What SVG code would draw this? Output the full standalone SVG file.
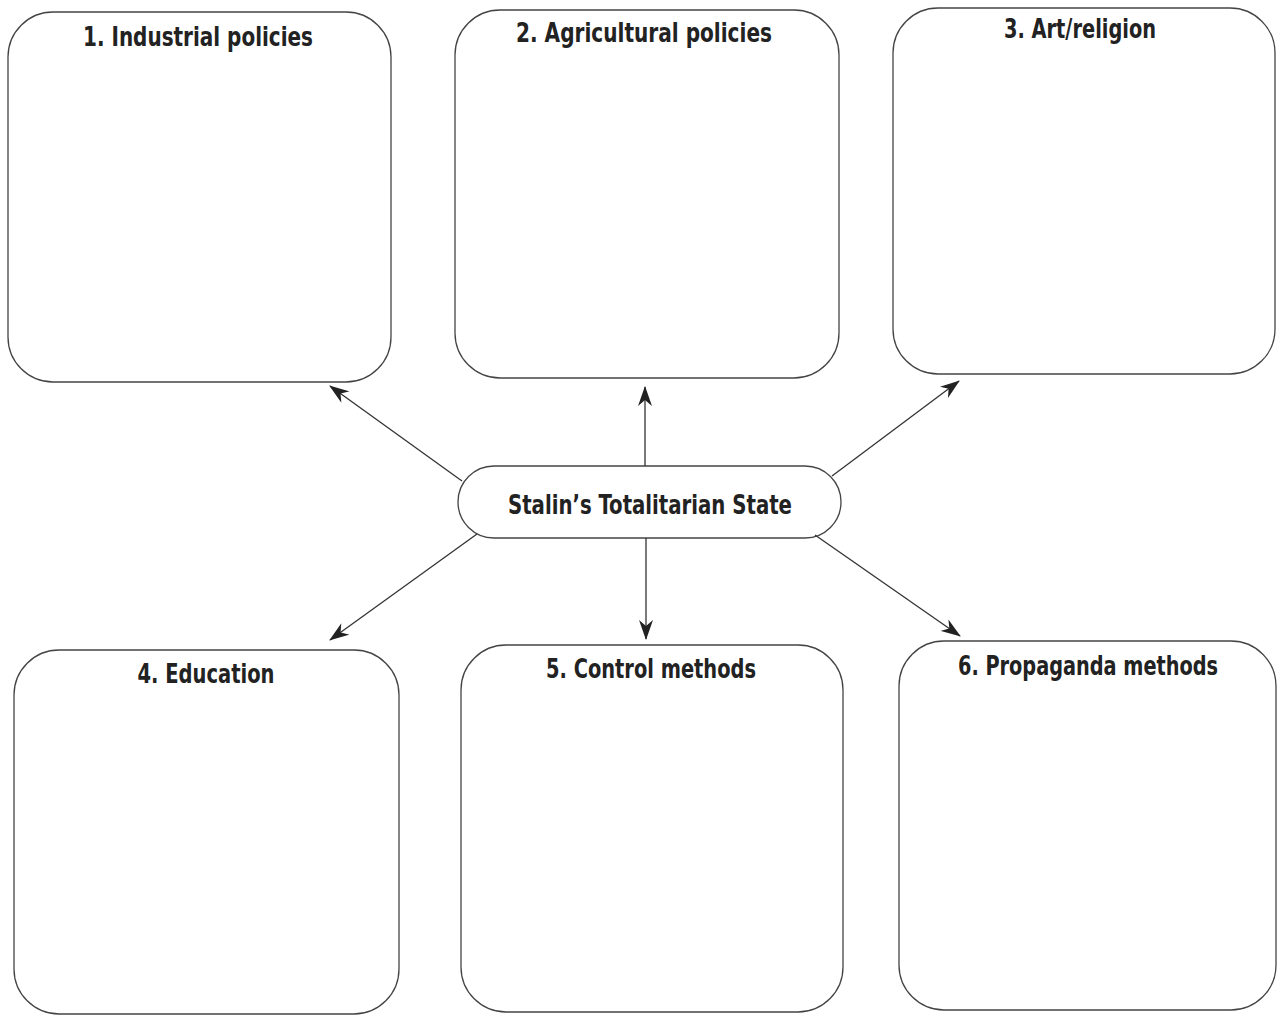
<svg xmlns="http://www.w3.org/2000/svg" width="1277" height="1016" viewBox="0 0 1277 1016">
<style>
.box{fill:#fff;stroke:#444;stroke-width:1.3}
.t{font-family:"Liberation Sans Narrow","DejaVu Sans Condensed","Roboto Condensed","Liberation Sans",sans-serif;font-stretch:condensed;font-weight:bold;font-size:26px;fill:#222;text-anchor:middle}
.c{stroke:#333;stroke-width:1.3;fill:none;marker-end:url(#ah)}
</style>
<defs>
<marker id="ah" viewBox="0 0 20 14" refX="19" refY="7" markerWidth="20" markerHeight="14" markerUnits="userSpaceOnUse" orient="auto">
<path d="M0,0 L20,7 L0,14 L6,7 z" fill="#222"/>
</marker>
</defs>
<rect width="1277" height="1016" fill="#fff"/>
<g id="n1"><rect class="box" x="8" y="12" width="383" height="370" rx="45"/><text class="t" x="198" y="46" textLength="230" lengthAdjust="spacingAndGlyphs">1. Industrial policies</text></g>
<g id="n2"><rect class="box" x="455" y="10" width="384" height="368" rx="45"/><text class="t" x="644" y="42" textLength="256" lengthAdjust="spacingAndGlyphs">2. Agricultural policies</text></g>
<g id="n3"><rect class="box" x="893" y="8" width="382" height="366" rx="45"/><text class="t" x="1080" y="38" textLength="152" lengthAdjust="spacingAndGlyphs">3. Art/religion</text></g>
<g id="n4"><rect class="box" x="14" y="650" width="385" height="364" rx="45"/><text class="t" x="206" y="683" textLength="137" lengthAdjust="spacingAndGlyphs">4. Education</text></g>
<g id="n5"><rect class="box" x="461" y="645" width="382" height="367" rx="45"/><text class="t" x="651" y="678" textLength="210" lengthAdjust="spacingAndGlyphs">5. Control methods</text></g>
<g id="n6"><rect class="box" x="899" y="641" width="377" height="369" rx="45"/><text class="t" x="1088" y="675" textLength="260" lengthAdjust="spacingAndGlyphs">6. Propaganda methods</text></g>
<g id="center"><rect class="box" x="458" y="466" width="383" height="72" rx="36"/><text class="t" x="650" y="514" textLength="284" lengthAdjust="spacingAndGlyphs">Stalin’s Totalitarian State</text></g>
<g id="connectors">
<line class="c" x1="462" y1="481" x2="330" y2="386"/>
<line class="c" x1="645" y1="466" x2="645" y2="387"/>
<line class="c" x1="832" y1="476" x2="959" y2="381"/>
<line class="c" x1="477" y1="534" x2="330" y2="640"/>
<line class="c" x1="646" y1="538" x2="646" y2="639"/>
<line class="c" x1="815" y1="535" x2="960" y2="636"/>
</g>
</svg>
